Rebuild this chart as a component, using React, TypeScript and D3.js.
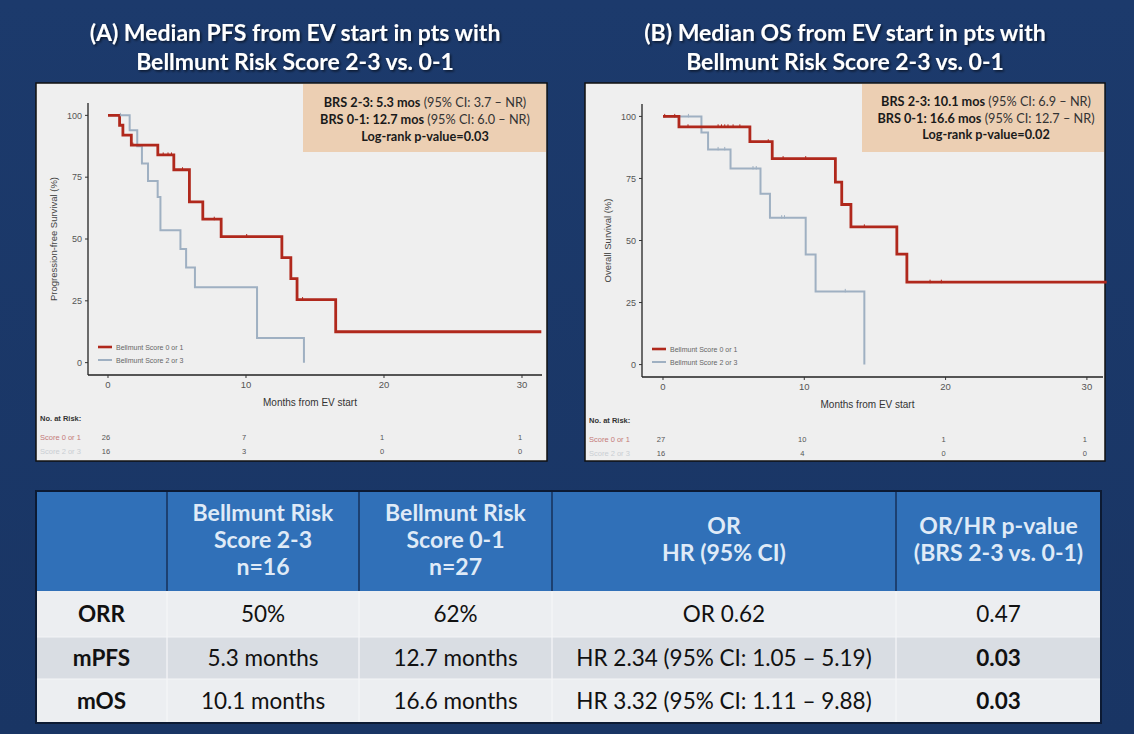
import React from 'react';
import * as d3 from 'd3';

const W = 1134;
const H = 734;

// ---------- Panel A: PFS ----------
const pfsRedTimes = [0, 0.84, 1.08, 1.69, 3.61, 4.77, 5.9, 6.87, 8.2, 12.6, 13.25, 13.7, 16.5, 31.4];
const pfsRedSurv = [100, 96, 92, 88, 84, 78, 65, 58, 51, 42.5, 34, 25.5, 12.5, 12.5];
const pfsRedCensor = [1.8, 4.0, 4.35, 4.6, 5.4, 7.7, 10.05, 14.1];
const pfsGreyTimes = [0, 1.57, 2.12, 2.46, 2.9, 3.6, 3.8, 5.25, 5.66, 6.3, 10.8, 14.2];
const pfsGreySurv = [100, 94, 87.5, 80.5, 73.5, 67, 53.5, 46, 38.5, 30.5, 10, 0];
const pfsGreyCensor = [0.9];

// ---------- Panel B: OS ----------
const osRedTimes = [0, 1.13, 6.15, 7.73, 12.2, 12.65, 13.3, 16.55, 17.26, 31.4];
const osRedSurv = [100, 95.8, 89.8, 83, 73.5, 64.5, 55.5, 44.5, 33.2, 33.2];
const osRedCensor = [0.12, 0.83, 1.77, 3.9, 4.14, 4.37, 4.6, 4.96, 5.44, 7.45, 8.5, 10.1, 14.25, 18.9, 19.7];
const osGreyTimes = [0, 2.72, 3.19, 4.78, 6.9, 7.57, 10.1, 10.8, 14.25];
const osGreySurv = [100, 93.5, 86.7, 79, 68.8, 59.2, 44.4, 29.5, 0];
const osGreyCensor = [1.8, 3.9, 4.37, 6.37, 6.6, 8.4, 8.6, 12.9];

// ---------- Axes & risk tables ----------
const xTicks = [0, 10, 20, 30];
const yTicks = [0, 25, 50, 75, 100];
const riskTimes = [0, 10, 20, 30];
const pfsRiskRed = [26, 7, 1, 1];
const pfsRiskGrey = [16, 3, 0, 0];
const osRiskRed = [27, 10, 1, 1];
const osRiskGrey = [16, 4, 0, 0];
const legendLabels = ['Bellmunt Score 0 or 1', 'Bellmunt Score 2 or 3'];
const riskLabels = ['Score 0 or 1', 'Score 2 or 3'];

// ---------- Titles & annotations ----------
const titleA = ['(A) Median PFS from EV start in pts with', 'Bellmunt Risk Score 2-3 vs. 0-1'];
const titleB = ['(B) Median OS from EV start in pts with', 'Bellmunt Risk Score 2-3 vs. 0-1'];
const annotA = [
  ['BRS 2-3: 5.3 mos', ' (95% CI: 3.7 – NR)'],
  ['BRS 0-1: 12.7 mos', ' (95% CI: 6.0 – NR)'],
  ['Log-rank p-value=0.03', ''],
];
const annotB = [
  ['BRS 2-3: 10.1 mos', ' (95% CI: 6.9 – NR)'],
  ['BRS 0-1: 16.6 mos', ' (95% CI: 12.7 – NR)'],
  ['Log-rank p-value=0.02', ''],
];

// ---------- Table ----------
const tableHeaders = [
  [] as string[],
  ['Bellmunt Risk', 'Score 2-3', 'n=16'],
  ['Bellmunt Risk', 'Score 0-1', 'n=27'],
  ['OR', 'HR (95% CI)'],
  ['OR/HR p-value', '(BRS 2-3 vs. 0-1)'],
];
const rowLabels = ['ORR', 'mPFS', 'mOS'];
const colBRS23 = ['50%', '5.3 months', '10.1 months'];
const colBRS01 = ['62%', '12.7 months', '16.6 months'];
const colORHR = ['OR 0.62', 'HR 2.34 (95% CI: 1.05 – 5.19)', 'HR 3.32 (95% CI: 1.11 – 9.88)'];
const colPval = ['0.47', '0.03', '0.03'];
const pvalBold = [false, true, true];

const RED = '#b0281c';
const GREY = '#9fb0c2';
const PLOT_FONT = '"Liberation Sans", Arial, sans-serif';
const SLIDE_FONT = 'Lato, "Open Sans", sans-serif';

function survAt(times: number[], surv: number[], t: number) {
  let s = surv[0];
  for (let i = 0; i < times.length; i++) if (times[i] <= t) s = surv[i];
  return s;
}

type PanelProps = {
  box: { x: number; y: number; w: number; h: number };
  xRange: [number, number];
  xDomain: [number, number];
  yRange: [number, number];
  yLabel: string;
  yLabelX: number;
  annot: string[][];
  annotBox: { x: number; y: number; w: number; h: number };
  annotCx: number;
  annotBase: number[];
  red: { t: number[]; s: number[]; c: number[] };
  grey: { t: number[]; s: number[]; c: number[] };
  riskRed: number[];
  riskGrey: number[];
};

function KMPanel(p: PanelProps) {
  const x = d3.scaleLinear().domain(p.xDomain).range(p.xRange);
  const y = d3.scaleLinear().domain([-5, 105]).range(p.yRange);
  const line = d3
    .line<[number, number]>()
    .x((d) => x(d[0]))
    .y((d) => y(d[1]))
    .curve(d3.curveStepAfter);
  const pts = (t: number[], s: number[]) => t.map((v, i) => [v, s[i]] as [number, number]);
  const left = p.xRange[0];
  const right = p.xRange[1];
  const bottom = p.yRange[0];
  const top = p.yRange[1];
  const bx = p.box.x;
  return (
    <g>
      <rect x={p.box.x} y={p.box.y} width={p.box.w} height={p.box.h} fill="#efefef" stroke="#111" strokeWidth={1.5} />
      <rect x={p.annotBox.x} y={p.annotBox.y} width={p.annotBox.w} height={p.annotBox.h} fill="#eccfb3" />
      {p.annot.map((ln, i) => (
        <text key={i} x={p.annotCx} y={p.annotBase[i]} textAnchor="middle" fontFamily={SLIDE_FONT} fontSize={12.7} fill="#1a1a1a">
          <tspan fontWeight="bold">{ln[0]}</tspan>
          {ln[1] && <tspan fill="#333">{ln[1]}</tspan>}
        </text>
      ))}
      {/* axes */}
      <line x1={left} x2={left} y1={top} y2={bottom} stroke="#222" strokeWidth={1.3} />
      <line x1={left} x2={right} y1={bottom} y2={bottom} stroke="#222" strokeWidth={1.3} />
      {yTicks.map((v) => (
        <g key={v}>
          <line x1={left - 3} x2={left} y1={y(v)} y2={y(v)} stroke="#333" />
          <text x={left - 6} y={y(v) + 3.2} textAnchor="end" fontFamily={PLOT_FONT} fontSize={9} fill="#555">
            {v}
          </text>
        </g>
      ))}
      {xTicks.map((v) => (
        <g key={v}>
          <line x1={x(v)} x2={x(v)} y1={bottom} y2={bottom + 3} stroke="#333" />
          <text x={x(v)} y={bottom + 13} textAnchor="middle" fontFamily={PLOT_FONT} fontSize={9.5} fill="#555">
            {v}
          </text>
        </g>
      ))}
      <text x={(left + right) / 2 - 5} y={bottom + 31} textAnchor="middle" fontFamily={PLOT_FONT} fontSize={10} fill="#333">
        Months from EV start
      </text>
      <text
        transform={`translate(${p.yLabelX},${(top + bottom) / 2}) rotate(-90)`}
        textAnchor="middle"
        fontFamily={PLOT_FONT}
        fontSize={9.5}
        fill="#444"
      >
        {p.yLabel}
      </text>
      {/* curves */}
      <path d={line(pts(p.grey.t, p.grey.s)) || ''} fill="none" stroke={GREY} strokeWidth={2} />
      <path d={line(pts(p.red.t, p.red.s)) || ''} fill="none" stroke={RED} strokeWidth={2.8} />
      {p.grey.c.map((t, i) => (
        <line key={'g' + i} x1={x(t)} x2={x(t)} y1={y(survAt(p.grey.t, p.grey.s, t)) - 2.5} y2={y(survAt(p.grey.t, p.grey.s, t)) + 1} stroke={GREY} strokeWidth={1} />
      ))}
      {p.red.c.map((t, i) => (
        <line key={'r' + i} x1={x(t)} x2={x(t)} y1={y(survAt(p.red.t, p.red.s, t)) - 2.5} y2={y(survAt(p.red.t, p.red.s, t)) + 1} stroke={RED} strokeWidth={1} />
      ))}
      {/* legend */}
      {legendLabels.map((lab, i) => (
        <g key={lab}>
          <line x1={left + 10} x2={left + 24} y1={bottom - 28 + i * 13} y2={bottom - 28 + i * 13} stroke={i === 0 ? RED : GREY} strokeWidth={i === 0 ? 2.6 : 2} />
          <text x={left + 28} y={bottom - 25.5 + i * 13} fontFamily={PLOT_FONT} fontSize={7} fill="#666">
            {lab}
          </text>
        </g>
      ))}
      {/* risk table */}
      <text x={bx + 4} y={bottom + 46} fontFamily={PLOT_FONT} fontSize={7.5} fontWeight="bold" fill="#333">
        No. at Risk:
      </text>
      {riskLabels.map((lab, i) => (
        <text key={lab} x={bx + 4} y={bottom + 65 + i * 14} fontFamily={PLOT_FONT} fontSize={7.5} fill={i === 0 ? '#c47a78' : '#c9ced3'}>
          {lab}
        </text>
      ))}
      {riskTimes.map((t, i) => (
        <g key={t}>
          <text x={x(t) - 2} y={bottom + 65} textAnchor="middle" fontFamily={PLOT_FONT} fontSize={7.5} fill="#555">
            {p.riskRed[i]}
          </text>
          <text x={x(t) - 2} y={bottom + 79} textAnchor="middle" fontFamily={PLOT_FONT} fontSize={7.5} fill="#555">
            {p.riskGrey[i]}
          </text>
        </g>
      ))}
    </g>
  );
}

function Table() {
  const colX = [36, 167, 359, 552, 896, 1101];
  const top = 491;
  const headBottom = 591;
  const rowY = [591, 637, 679, 723];
  const rowFill = ['#eceef1', '#d9dde3', '#eceef1'];
  const bodyCols = [rowLabels, colBRS23, colBRS01, colORHR, colPval];
  return (
    <g>
      <rect x={colX[0]} y={top} width={colX[5] - colX[0]} height={headBottom - top} fill="#3070b8" />
      {rowFill.map((f, i) => (
        <rect key={i} x={colX[0]} y={rowY[i]} width={colX[5] - colX[0]} height={rowY[i + 1] - rowY[i]} fill={f} />
      ))}
      {colX.slice(1, 5).map((cx) => (
        <g key={cx}>
          <line x1={cx} x2={cx} y1={top} y2={headBottom} stroke="#16305a" strokeWidth={1.5} />
          <line x1={cx} x2={cx} y1={headBottom} y2={rowY[3]} stroke="#f6f7f9" strokeWidth={1.2} />
        </g>
      ))}
      <line x1={colX[0]} x2={colX[5]} y1={rowY[1]} y2={rowY[1]} stroke="#f4f5f7" strokeWidth={1} />
      <line x1={colX[0]} x2={colX[5]} y1={rowY[2]} y2={rowY[2]} stroke="#f4f5f7" strokeWidth={1} />
      <rect x={colX[0]} y={top} width={colX[5] - colX[0]} height={rowY[3] - top} fill="none" stroke="#0c1a33" strokeWidth={2} />
      {tableHeaders.map((lines, c) => {
        const cx = (colX[c] + colX[c + 1]) / 2;
        const n = lines.length;
        const start = n === 3 ? 521 : 534;
        return lines.map((ln, j) => (
          <text key={c + '-' + j} x={cx} y={start + j * 27} textAnchor="middle" fontFamily={SLIDE_FONT} fontWeight="bold" fontSize={23} fill="#dfeaf7">
            {ln}
          </text>
        ));
      })}
      {bodyCols.map((col, c) => {
        const cx = (colX[c] + colX[c + 1]) / 2;
        return col.map((v, r) => (
          <text
            key={c + '-' + r}
            x={cx}
            y={(rowY[r] + rowY[r + 1]) / 2 + 8}
            textAnchor="middle"
            fontFamily={SLIDE_FONT}
            fontSize={22.5}
            fontWeight={c === 0 || (c === 4 && pvalBold[r]) ? 'bold' : 'normal'}
            fill="#111"
          >
            {v}
          </text>
        ));
      })}
    </g>
  );
}

export default function App() {
  return (
    <svg width={W} height={H} style={{ position: 'absolute', left: 0, top: 0, display: 'block' }}>
      <defs>
        <filter id="sh" x="-5%" y="-20%" width="110%" height="150%">
          <feDropShadow dx="1.5" dy="1.5" stdDeviation="0.8" floodColor="#000" floodOpacity="0.6" />
        </filter>
        <linearGradient id="bg" x1="0" y1="0" x2="0" y2="1">
          <stop offset="0" stopColor="#1c3a6c" />
          <stop offset="1" stopColor="#193564" />
        </linearGradient>
      </defs>
      <rect x={0} y={0} width={W} height={H} fill="url(#bg)" />
      {[titleA, titleB].map((t, k) => (
        <g key={k} filter="url(#sh)">
          {t.map((ln, j) => (
            <text key={j} x={k === 0 ? 295 : 845} y={41 + j * 29} textAnchor="middle" fontFamily={SLIDE_FONT} fontWeight="bold" fontSize={23} fill="#ffffff">
              {ln}
            </text>
          ))}
        </g>
      ))}
      <KMPanel
        box={{ x: 36, y: 83, w: 511, h: 378 }}
        xRange={[88, 542]}
        xDomain={[-1.449, 31.45]}
        yRange={[375, 103]}
        yLabel="Progression-free Survival (%)"
        yLabelX={57}
        annot={annotA}
        annotBox={{ x: 303, y: 84, w: 243, h: 68 }}
        annotCx={425}
        annotBase={[107, 124, 141]}
        red={{ t: pfsRedTimes, s: pfsRedSurv, c: pfsRedCensor }}
        grey={{ t: pfsGreyTimes, s: pfsGreySurv, c: pfsGreyCensor }}
        riskRed={pfsRiskRed}
        riskGrey={pfsRiskGrey}
      />
      <KMPanel
        box={{ x: 585, y: 83, w: 520, h: 378 }}
        xRange={[642, 1103]}
        xDomain={[-1.486, 31.14]}
        yRange={[377, 104]}
        yLabel="Overall Survival (%)"
        yLabelX={611}
        annot={annotB}
        annotBox={{ x: 862, y: 84, w: 242, h: 68 }}
        annotCx={986}
        annotBase={[106, 123, 139]}
        red={{ t: osRedTimes, s: osRedSurv, c: osRedCensor }}
        grey={{ t: osGreyTimes, s: osGreySurv, c: osGreyCensor }}
        riskRed={osRiskRed}
        riskGrey={osRiskGrey}
      />
      <Table />
    </svg>
  );
}
